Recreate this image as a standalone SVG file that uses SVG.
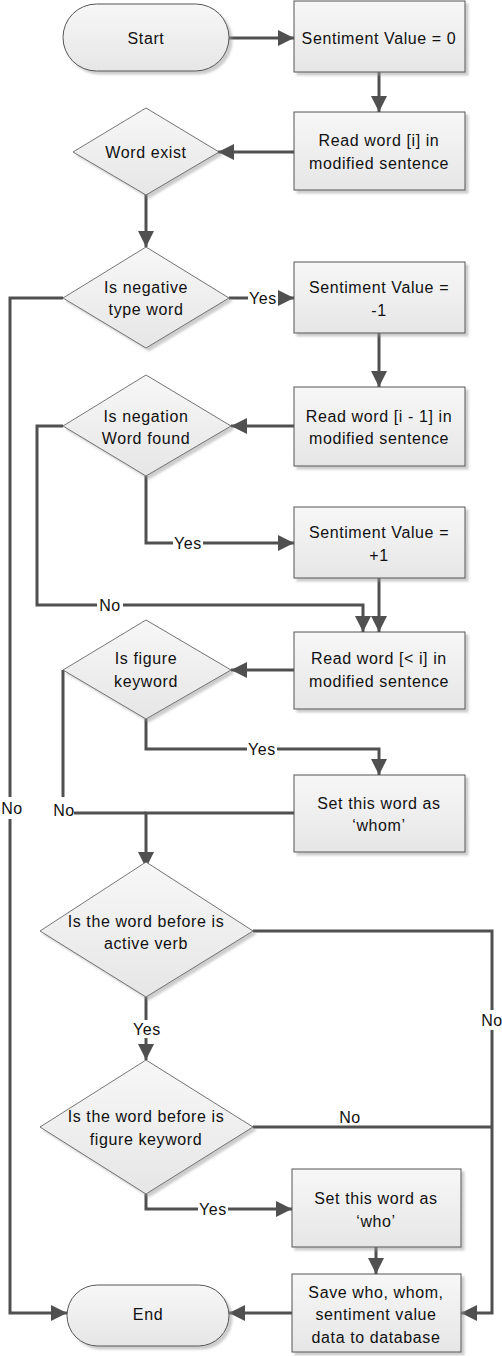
<svg xmlns="http://www.w3.org/2000/svg" width="502" height="1356" viewBox="0 0 502 1356">
<style>
.shape{fill:url(#g);stroke:#555;stroke-width:1;filter:url(#sh)}
.dia{fill:url(#g);stroke:#555;stroke-width:0.8;filter:url(#sh)}
.t{font-family:"Liberation Sans",Arial,sans-serif;font-size:16px;letter-spacing:0.6px;fill:#111;text-anchor:middle;dominant-baseline:central}
.c{fill:none;stroke:#505050;stroke-width:3}
.a{marker-end:url(#ah)}
.lbg{fill:#fff}
</style>
<defs>
<linearGradient id="g" x1="0" y1="0" x2="0" y2="1">
<stop offset="0" stop-color="#f7f7f7"/>
<stop offset="1" stop-color="#e6e6e6"/>
</linearGradient>
<filter id="sh" x="-10%" y="-10%" width="125%" height="130%">
<feDropShadow dx="3" dy="3" stdDeviation="1" flood-color="#999" flood-opacity="0.5"/>
</filter>
<marker id="ah" markerUnits="userSpaceOnUse" markerWidth="17" markerHeight="17" refX="16" refY="8" orient="auto">
<path d="M0,0 L16,8 L0,16 z" fill="#505050"/>
</marker>
</defs>

<g id="connectors">
<path class="c a" d="M229,38 H294"/>
<path class="c a" d="M379,72 V112"/>
<path class="c a" d="M294,152 H218"/>
<path class="c a" d="M146,194 V247"/>
<path class="c a" d="M229,298 H294"/>
<path class="c a" d="M63,298 H10 V1313 H67"/>
<path class="c a" d="M379,333 V387"/>
<path class="c a" d="M294,426 H231"/>
<path class="c a" d="M63,426 H37 V605 H363 V632"/>
<path class="c a" d="M146,476 V543 H294"/>
<path class="c a" d="M379,578 V632"/>
<path class="c a" d="M294,670 H231"/>
<path class="c a" d="M146,719 V749 H379 V775"/>
<path class="c" d="M63,670 V813 H146"/>
<path class="c a" d="M294,813 H146 V868"/>
<path class="c a" d="M253,931 H492 V1313 H461"/>
<path class="c a" d="M146,997 V1060"/>
<path class="c" d="M253,1127 H492"/>
<path class="c a" d="M146,1194 V1209 H292"/>
<path class="c a" d="M376,1247 V1274"/>
<path class="c a" d="M292,1313 H229"/>
<rect class="lbg" x="248" y="289" width="30" height="18"/>
<text class="t" x="263" y="298">Yes</text>
<rect class="lbg" x="2" y="797" width="20" height="22"/>
<text class="t" x="12" y="808">No</text>
<rect class="lbg" x="97" y="596" width="26" height="18"/>
<text class="t" x="110" y="605">No</text>
<rect class="lbg" x="173" y="534" width="30" height="18"/>
<text class="t" x="188" y="543">Yes</text>
<rect class="lbg" x="247" y="740" width="30" height="18"/>
<text class="t" x="262" y="749">Yes</text>
<rect class="lbg" x="52" y="797" width="22" height="22"/>
<text class="t" x="64" y="810">No</text>
<rect class="lbg" x="482" y="1010" width="20" height="20"/>
<text class="t" x="492" y="1020">No</text>
<rect class="lbg" x="132" y="1020" width="30" height="18"/>
<text class="t" x="147" y="1029">Yes</text>
<text class="t" x="350" y="1117">No</text>
<rect class="lbg" x="198" y="1200" width="30" height="18"/>
<text class="t" x="213" y="1209">Yes</text>
</g>

<g id="start">
<rect class="shape" x="63" y="4" width="166" height="67" rx="33.5" ry="33.5"/>
<text class="t" x="146" y="38">Start</text>
</g>
<g id="sv0">
<rect class="shape" x="294" y="1" width="171" height="71"/>
<text class="t" x="379" y="38">Sentiment Value = 0</text>
</g>
<g id="read-i">
<rect class="shape" x="294" y="112" width="171" height="78"/>
<text class="t" x="379" y="140">Read word [i] in</text>
<text class="t" x="379" y="163">modified sentence</text>
</g>
<g id="word-exist">
<polygon class="dia" points="146,108 219,152 146,195 73,152"/>
<text class="t" x="146" y="152">Word exist</text>
</g>
<g id="is-negative">
<polygon class="dia" points="146,247 229,298 146,348 63,298"/>
<text class="t" x="146" y="287">Is negative</text>
<text class="t" x="146" y="309">type word</text>
</g>
<g id="sv-neg1">
<rect class="shape" x="294" y="262" width="171" height="71"/>
<text class="t" x="379" y="287">Sentiment Value =</text>
<text class="t" x="379" y="310">-1</text>
</g>
<g id="read-i-1">
<rect class="shape" x="294" y="387" width="171" height="79"/>
<text class="t" x="379" y="416">Read word [i - 1] in</text>
<text class="t" x="379" y="438">modified sentence</text>
</g>
<g id="is-negation">
<polygon class="dia" points="146,375 231,426 146,476 63,426"/>
<text class="t" x="146" y="416">Is negation</text>
<text class="t" x="146" y="438">Word found</text>
</g>
<g id="sv-pos1">
<rect class="shape" x="294" y="507" width="171" height="71"/>
<text class="t" x="379" y="532">Sentiment Value =</text>
<text class="t" x="379" y="555">+1</text>
</g>
<g id="read-lt-i">
<rect class="shape" x="294" y="632" width="171" height="77"/>
<text class="t" x="379" y="658">Read word [&lt; i] in</text>
<text class="t" x="379" y="681">modified sentence</text>
</g>
<g id="is-figure">
<polygon class="dia" points="146,620 231,670 146,719 63,670"/>
<text class="t" x="146" y="658">Is figure</text>
<text class="t" x="146" y="681">keyword</text>
</g>
<g id="set-whom">
<rect class="shape" x="294" y="775" width="171" height="77"/>
<text class="t" x="379" y="803">Set this word as</text>
<text class="t" x="379" y="825">‘whom’</text>
</g>
<g id="active-verb">
<polygon class="dia" points="146,862 253,931 146,997 40,931"/>
<text class="t" x="146" y="921">Is the word before is</text>
<text class="t" x="146" y="943">active verb</text>
</g>
<g id="figure-keyword">
<polygon class="dia" points="146,1060 253,1127 146,1194 40,1127"/>
<text class="t" x="146" y="1116">Is the word before is</text>
<text class="t" x="146" y="1139">figure keyword</text>
</g>
<g id="set-who">
<rect class="shape" x="292" y="1169" width="169" height="78"/>
<text class="t" x="376" y="1198">Set this word as</text>
<text class="t" x="376" y="1221">‘who’</text>
</g>
<g id="save">
<rect class="shape" x="292" y="1274" width="169" height="78"/>
<text class="t" x="376" y="1292">Save who, whom,</text>
<text class="t" x="376" y="1314">sentiment value</text>
<text class="t" x="376" y="1337">data to database</text>
</g>
<g id="end">
<rect class="shape" x="67" y="1285" width="162" height="61" rx="30.5" ry="30.5"/>
<text class="t" x="148" y="1314">End</text>
</g>
</svg>
